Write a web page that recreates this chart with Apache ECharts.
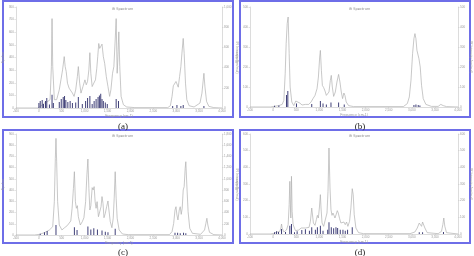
<!DOCTYPE html>
<html><head><meta charset="utf-8">
<script src="https://cdn.jsdelivr.net/npm/echarts@6/dist/echarts.min.js"></script>
<style>html,body{margin:0;padding:0;background:#fff}#c{width:474px;height:256px}</style>
</head><body><div id="c"></div>
<script>
// x tick range (cm-1)
const xTicks = [-500, 0, 500, 1000, 1500, 2000, 2500, 3000, 3500, 4000];
const panelLabels = ['(a)', '(b)', '(c)', '(d)'];
const panelTitle = 'IR Spectrum';

// Broadened spectrum curves [frequency, epsilon]
const curveA = [[-500,0],[-20,0],[52,18],[124,39],[196,52],[246,66],[275,328],[289,708],[304,328],[339,66],[390,66],[447,144],[483,223],[519,302],[555,407],[576,328],[598,289],[626,197],[662,157],[698,144],[734,118],[770,92],[806,144],[842,249],[863,328],[892,197],[921,118],[964,170],[1007,223],[1036,184],[1064,210],[1093,302],[1115,438],[1136,275],[1165,170],[1201,197],[1237,223],[1266,315],[1287,407],[1309,511],[1330,472],[1352,485],[1380,506],[1409,407],[1438,354],[1474,249],[1510,170],[1546,92],[1574,144],[1610,275],[1639,328],[1668,538],[1689,708],[1711,275],[1725,380],[1747,603],[1768,328],[1797,92],[1847,26],[1919,8],[2098,3],[2816,3],[2873,18],[2909,92],[2937,176],[2966,165],[2995,210],[3016,223],[3045,165],[3074,249],[3102,328],[3131,459],[3153,551],[3174,433],[3203,197],[3232,66],[3282,18],[3390,8],[3519,39],[3562,118],[3605,275],[3627,170],[3663,52],[3713,13],[3821,3],[4000,0]];
const curveB = [[-500,0],[-55,0],[17,3],[124,7],[196,13],[232,33],[261,167],[282,317],[304,417],[325,450],[347,267],[368,100],[404,25],[447,7],[490,30],[533,37],[576,20],[626,10],[698,13],[770,13],[820,25],[863,42],[906,58],[950,92],[979,150],[1007,250],[1022,283],[1044,183],[1065,108],[1093,97],[1122,80],[1151,58],[1180,50],[1208,75],[1237,133],[1258,158],[1280,100],[1309,53],[1345,75],[1380,125],[1416,163],[1445,125],[1474,75],[1502,42],[1531,70],[1553,58],[1581,25],[1632,7],[1740,2],[2816,2],[2902,17],[2945,50],[2981,133],[3016,267],[3045,342],[3067,367],[3088,342],[3110,283],[3131,287],[3153,242],[3181,200],[3210,108],[3246,42],[3303,13],[3425,3],[3569,3],[3626,13],[3677,7],[3749,2],[4000,0]];
const curveC = [[-500,0],[-91,0],[17,6],[124,21],[232,45],[304,74],[339,297],[361,683],[375,861],[390,653],[411,297],[447,89],[505,45],[562,65],[620,83],[662,95],[698,125],[727,238],[756,416],[777,564],[799,297],[820,238],[842,261],[863,163],[906,89],[950,119],[985,154],[1022,297],[1050,535],[1072,677],[1093,416],[1115,223],[1136,261],[1165,422],[1187,401],[1208,431],[1230,297],[1251,238],[1273,297],[1302,163],[1330,178],[1359,252],[1380,342],[1402,282],[1423,154],[1452,193],[1481,252],[1510,303],[1531,223],[1560,119],[1596,65],[1625,149],[1646,327],[1668,564],[1689,327],[1711,149],[1754,45],[1826,9],[1955,3],[2852,3],[2909,30],[2945,104],[2974,223],[2995,252],[3016,178],[3038,134],[3067,223],[3088,252],[3110,184],[3131,238],[3153,401],[3174,431],[3196,594],[3210,653],[3232,446],[3260,208],[3296,59],[3354,15],[3533,6],[3619,45],[3648,104],[3670,149],[3691,89],[3727,24],[3821,3],[4000,0]];
const curveD = [[-500,0],[-55,0],[17,4],[89,12],[146,16],[167,36],[182,60],[196,36],[232,12],[289,24],[325,56],[347,176],[361,316],[375,156],[383,96],[397,346],[411,136],[433,56],[483,20],[555,24],[605,36],[648,24],[698,36],[741,26],[777,40],[806,76],[835,156],[849,146],[871,66],[906,52],[935,86],[957,112],[978,96],[1000,156],[1022,236],[1036,156],[1058,66],[1093,46],[1129,56],[1165,126],[1187,256],[1208,516],[1230,276],[1251,146],[1273,112],[1294,126],[1316,112],[1337,96],[1366,120],[1388,140],[1409,126],[1438,92],[1466,66],[1502,66],[1531,72],[1560,56],[1588,72],[1617,46],[1653,76],[1682,156],[1711,272],[1732,236],[1754,116],[1790,36],[1847,8],[1955,2],[2959,2],[3066,12],[3117,36],[3160,66],[3181,76],[3210,46],[3232,72],[3253,76],[3282,36],[3332,8],[3569,2],[3641,16],[3670,56],[3691,96],[3713,46],[3749,8],[4000,0]];

// Stick spectra [frequency, IR intensity]
const sticksA = [[2,50],[31,70],[74,80],[103,40],[146,70],[174,100],[232,35],[289,130],[318,50],[447,60],[490,90],[533,110],[562,120],[590,80],[634,60],[684,70],[734,50],[806,55],[863,110],[950,40],[1022,70],[1065,100],[1115,120],[1165,40],[1208,70],[1251,90],[1294,110],[1323,125],[1352,140],[1380,90],[1409,70],[1452,55],[1495,40],[1689,90],[1740,70],[2923,20],[3016,30],[3102,20],[3153,30],[3605,20]];
const sticksB = [[31,6],[124,8],[289,60],[318,80],[505,18],[835,15],[1022,30],[1079,18],[1151,12],[1251,22],[1416,22],[1538,12],[3045,10],[3088,12],[3138,10],[3174,8]];
const sticksC = [[31,24],[124,48],[182,70],[375,180],[777,140],[835,90],[1072,150],[1136,100],[1201,120],[1280,100],[1380,80],[1452,60],[1510,50],[1668,110],[2974,40],[3031,40],[3088,30],[3160,40],[3210,30]];
const sticksD = [[31,10],[74,16],[117,12],[182,30],[268,12],[361,50],[397,60],[462,10],[519,16],[620,24],[698,28],[785,20],[835,40],[914,26],[957,40],[1022,50],[1079,20],[1180,26],[1208,70],[1258,40],[1309,34],[1359,40],[1395,36],[1452,26],[1510,26],[1560,20],[1610,26],[1711,40],[3160,10],[3232,10],[3684,12]];

// Axis ranges per panel: [leftMax, leftInterval, rightMax, rightInterval]
const axisRanges = [[800,100,1000,200],[500,100,500,100],[900,100,1800,200],[600,100,600,100]];

const curves = [curveA, curveB, curveC, curveD];
const sticks = [sticksA, sticksB, sticksC, sticksD];

// layout (px)
const frames = [[3,1,230,116],[240,1,230,116],[3,130,230,113],[240,130,230,113]];
const grids = [[13,7,209,101],[250,7,209,100],[13,134,209,101],[250,134,209,100]];
const labelPos = [[118,117],[355,117],[118,243],[355,243]];

const frameColor = '#6e6ee8';
const axisColor = '#c4c4c4';
const lblColor = '#9a9a9a';

const option = {
  backgroundColor: '#fff',
  animation: false,
  graphic: frames.map(f => ({type:'rect', shape:{x:f[0],y:f[1],width:f[2],height:f[3]}, style:{fill:'#fff', stroke:frameColor, lineWidth:2}, z:-10})),
  title: [],
  grid: grids.map(g => ({left:g[0], top:g[1], width:g[2], height:g[3], show:false})),
  xAxis: [], yAxis: [], series: []
};

for (let i = 0; i < 4; i++) {
  const g = grids[i];
  option.title.push({text: panelTitle, left: g[0] + g[2]/2, top: g[1] - 5, textAlign:'center',
    textStyle:{fontSize:3.5, color:'#888', fontWeight:'normal', fontFamily:'DejaVu Sans'}});
  option.title.push({text: panelLabels[i], left: labelPos[i][0], top: labelPos[i][1], textAlign:'center',
    textStyle:{fontSize:9, color:'#222', fontWeight:'normal', fontFamily:'Liberation Serif'}});
  option.xAxis.push({type:'value', gridIndex:i, min:xTicks[0], max:xTicks[xTicks.length-1], interval:500,
    name:'Frequency (cm-1)', nameLocation:'middle', nameGap:6,
    nameTextStyle:{fontSize:3.5, color:lblColor},
    axisLine:{onZero:false, lineStyle:{color:axisColor, width:0.6}},
    axisTick:{length:1.5, lineStyle:{color:axisColor, width:0.5}},
    axisLabel:{fontSize:3, color:lblColor, margin:2},
    splitLine:{show:false}});
  const r = axisRanges[i];
  option.yAxis.push({type:'value', gridIndex:i, min:0, max:r[0], interval:r[1], position:'left',
    name:'Epsilon', nameLocation:'middle', nameGap:7, nameRotate:90,
    nameTextStyle:{fontSize:3.5, color:lblColor},
    axisLine:{show:true, onZero:false, lineStyle:{color:axisColor, width:0.6}},
    axisTick:{show:true, length:1.5, lineStyle:{color:axisColor, width:0.5}},
    axisLabel:{fontSize:3, color:lblColor, margin:2},
    splitLine:{show:false}});
  option.yAxis.push({type:'value', gridIndex:i, min:0, max:r[2], interval:r[3], position:'right',
    name:'IR Intensity (km/mol)', nameLocation:'middle', nameGap:7, nameRotate:-90,
    nameTextStyle:{fontSize:3.5, color:lblColor},
    axisLine:{show:true, onZero:false, lineStyle:{color:axisColor, width:0.6}},
    axisTick:{show:true, length:1.5, lineStyle:{color:axisColor, width:0.5}},
    axisLabel:{fontSize:3, color:lblColor, margin:2},
    splitLine:{show:false}});
  option.series.push({type:'bar', xAxisIndex:i, yAxisIndex:2*i+1, data:sticks[i], barWidth:0.5,
    itemStyle:{color:'#404078'}, silent:true, z:3});
  option.series.push({type:'line', xAxisIndex:i, yAxisIndex:2*i, data:curves[i], showSymbol:false, symbol:'none',
    lineStyle:{color:'#b0b0b0', width:0.7}, z:2, silent:true});
}

const chart = echarts.init(document.getElementById('c'), null, {renderer:'canvas'});
chart.setOption(option);
</script>
</body></html>
